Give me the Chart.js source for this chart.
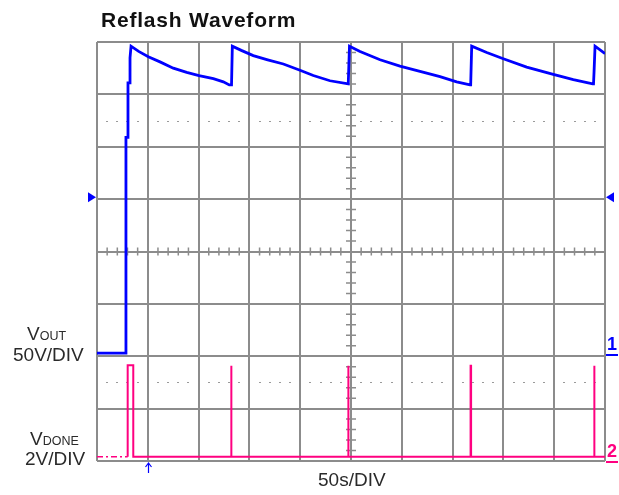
<!DOCTYPE html>
<html>
<head>
<meta charset="utf-8">
<script src="https://cdn.jsdelivr.net/npm/chart.js@4"></script>
<style>
  html, body { margin: 0; padding: 0; background: #ffffff; }
  #wrap { position: relative; width: 619px; height: 495px; overflow: hidden; }
  #c { position: absolute; left: 0; top: 0; }
  .lbl { position: absolute; font-family: "Liberation Sans", Arial, sans-serif; color: #2a2a2a; white-space: nowrap; line-height: 1; }
  .sc { font-size: 12.5px; }
</style>
</head>
<body>
<div id="wrap">
  <canvas id="c" width="619" height="495"></canvas>
  <div class="lbl" id="title" style="left:101px; top:9px; font-size:21px; font-weight:bold; letter-spacing:0.8px; color:#111;">Reflash Waveform</div>
  <div class="lbl" style="left:27px; top:324px; font-size:19px;">V<span class="sc">OUT</span></div>
  <div class="lbl" style="left:13px; top:345px; font-size:19px;">50V/DIV</div>
  <div class="lbl" style="left:30px; top:429px; font-size:19px;">V<span class="sc">DONE</span></div>
  <div class="lbl" style="left:25px; top:449px; font-size:19px;">2V/DIV</div>
  <div class="lbl" style="left:318px; top:470px; font-size:19px;">50s/DIV</div>
  <div class="lbl" style="left:606px; top:335px; font-size:18px; font-weight:bold; color:#0000ff; border-bottom:2px solid #0000ff; padding:0 1px 1px 1px;">1</div>
  <div class="lbl" style="left:606px; top:442px; font-size:18px; font-weight:bold; color:#ff0080; border-bottom:2px solid #ff0080; padding:0 1px 1px 1px;">2</div>
</div>
<script>
// ---- Data (time in seconds, 50 s/div; voltages in volts) ----
const vOutTime = [0, 28.5, 28.5, 30.5, 30.5, 32.5, 32.5, 33.5, 41, 50.5, 62, 75.1, 88.3, 100.4, 114.5, 124.3, 130.2,
  132.4, 133.2, 142, 153.8, 168, 183.4, 199.8, 212.9, 229.3, 247.3,
  248, 248.5, 258.9, 278.6, 298.2, 317.9, 337.6, 354, 367.1,
  367.8, 368.8, 383.6, 399.9, 422.9, 449.1, 468.8, 487.9,
  488.7, 489.2, 490.2, 498.4, 500];
const vOutVolts = [0, 0, 206, 206, 258, 258, 282, 293, 288, 283, 278, 272, 268, 265, 262, 259, 256,
  256, 293, 289, 284, 280, 276, 270, 265, 260, 257,
  257, 293, 288, 280, 274, 269, 264, 259, 256,
  256, 293, 287, 281, 273, 266, 261, 257,
  257, 268, 293, 287, 286];

const vDoneDashTime = [0, 30.2];
const vDoneDashVolts = [0, 0];
const vDoneTime = [30.2, 30.2, 35.7, 35.7, 131.9, 131.9, 132.4, 132.4, 247.1, 247.1, 247.6, 247.6,
  367.7, 367.7, 368.2, 368.2, 489.2, 489.2, 489.7, 489.7, 500];
const vDoneVolts = [0, 3.5, 3.5, 0, 0, 3.48, 3.48, 0, 0, 3.48, 3.48, 0,
  0, 3.48, 3.48, 0, 0, 3.48, 3.48, 0, 0];

const timeRange = [0, 500];     // 10 divisions x 50 s
const timePerDiv = 50;
const divisions = 8;            // vertical divisions
const ch1VoltsPerDiv = 50;
const ch2VoltsPerDiv = 2;
const ch1GroundDiv = 2.06;      // channel 1 ground marker position (divisions from bottom)
const ch2GroundDiv = 0.08;
const triggerLevelDiv = 5;
const triggerTime = 50;
const dottedLevelsDiv = [6.5, 1.5];

const BLUE = '#0000ff';
const PINK = '#ff0080';
const GRID = '#8c8c8c';

function pts(xs, ys) { return xs.map((x, i) => ({ x: x, y: ys[i] })); }

const scopePlugin = {
  id: 'scope',
  beforeDatasetsDraw(chart) {
    const ctx = chart.ctx, xs = chart.scales.x, yg = chart.scales.yg;
    ctx.save();
    // dotted reference lines
    ctx.fillStyle = '#9a9a9a';
    dottedLevelsDiv.forEach(lv => {
      const py = Math.round(yg.getPixelForValue(lv));
      for (let t = timeRange[0]; t < timeRange[1]; t += timePerDiv / 5) {
        if (Math.abs(t % timePerDiv) < 1e-6) continue;
        const px = Math.round(xs.getPixelForValue(t));
        ctx.fillRect(px - 1, py, 2, 1);
      }
    });
    // centre axis ticks
    ctx.strokeStyle = GRID;
    ctx.lineWidth = 1.5;
    const cx = xs.getPixelForValue((timeRange[0] + timeRange[1]) / 2);
    const cy = yg.getPixelForValue(divisions / 2);
    ctx.beginPath();
    for (let d = 0; d < divisions; d += 0.2) {
      if (Math.abs(d - Math.round(d)) < 1e-6) continue;
      const py = yg.getPixelForValue(d);
      ctx.moveTo(cx - 5, py); ctx.lineTo(cx + 5, py);
    }
    for (let t = timeRange[0]; t < timeRange[1]; t += timePerDiv / 5) {
      if (Math.abs(t % timePerDiv) < 1e-6) continue;
      const px = xs.getPixelForValue(t);
      ctx.moveTo(px, cy - 4); ctx.lineTo(px, cy + 4);
    }
    ctx.stroke();
    ctx.restore();
  },
  afterDraw(chart) {
    const ctx = chart.ctx, xs = chart.scales.x, yg = chart.scales.yg, a = chart.chartArea;
    ctx.save();
    ctx.fillStyle = BLUE;
    const ty = yg.getPixelForValue(triggerLevelDiv) - 2;
    // left trigger level marker
    ctx.beginPath();
    ctx.moveTo(a.left - 1, ty); ctx.lineTo(a.left - 9, ty - 5); ctx.lineTo(a.left - 9, ty + 5); ctx.closePath(); ctx.fill();
    // right trigger level marker
    ctx.beginPath();
    ctx.moveTo(a.right + 1, ty); ctx.lineTo(a.right + 9, ty - 5); ctx.lineTo(a.right + 9, ty + 5); ctx.closePath(); ctx.fill();
    // trigger position arrow
    const tx = Math.round(xs.getPixelForValue(triggerTime)) + 0.5;
    ctx.strokeStyle = BLUE; ctx.lineWidth = 1.2;
    ctx.beginPath();
    ctx.moveTo(tx, a.bottom + 2); ctx.lineTo(tx, a.bottom + 12);
    ctx.moveTo(tx - 3, a.bottom + 6); ctx.lineTo(tx, a.bottom + 2); ctx.lineTo(tx + 3, a.bottom + 6);
    ctx.stroke();
    ctx.restore();
  }
};

new Chart(document.getElementById('c'), {
  type: 'line',
  data: {
    datasets: [
      { label: 'VDONE (pre)', data: pts(vDoneDashTime, vDoneDashVolts), yAxisID: 'y2', borderColor: PINK, borderWidth: 1.5, borderDash: [6, 3, 2, 3] },
      { label: 'VDONE', data: pts(vDoneTime, vDoneVolts), yAxisID: 'y2', borderColor: PINK, borderWidth: 2 },
      { label: 'VOUT', data: pts(vOutTime, vOutVolts), yAxisID: 'y1', borderColor: BLUE, borderWidth: 2.8 }
    ]
  },
  options: {
    responsive: false,
    devicePixelRatio: 1,
    animation: false,
    parsing: true,
    elements: { point: { radius: 0 }, line: { tension: 0, borderJoinStyle: 'miter', fill: false } },
    layout: { padding: { left: 97, right: 14, top: 42, bottom: 34 } },
    plugins: { legend: { display: false }, tooltip: { enabled: false }, title: { display: false } },
    scales: {
      x: {
        type: 'linear', min: timeRange[0], max: timeRange[1],
        ticks: { display: false, stepSize: timePerDiv },
        grid: { color: GRID, lineWidth: 2, drawTicks: false },
        border: { display: false }
      },
      yg: {
        type: 'linear', position: 'left', min: 0, max: divisions,
        ticks: { display: false, stepSize: 1 },
        grid: { color: GRID, lineWidth: 2, drawTicks: false },
        border: { display: false }
      },
      y1: { type: 'linear', display: false, min: -ch1GroundDiv * ch1VoltsPerDiv, max: (divisions - ch1GroundDiv) * ch1VoltsPerDiv },
      y2: { type: 'linear', display: false, min: -ch2GroundDiv * ch2VoltsPerDiv, max: (divisions - ch2GroundDiv) * ch2VoltsPerDiv }
    }
  },
  plugins: [scopePlugin]
});
</script>
</body>
</html>
